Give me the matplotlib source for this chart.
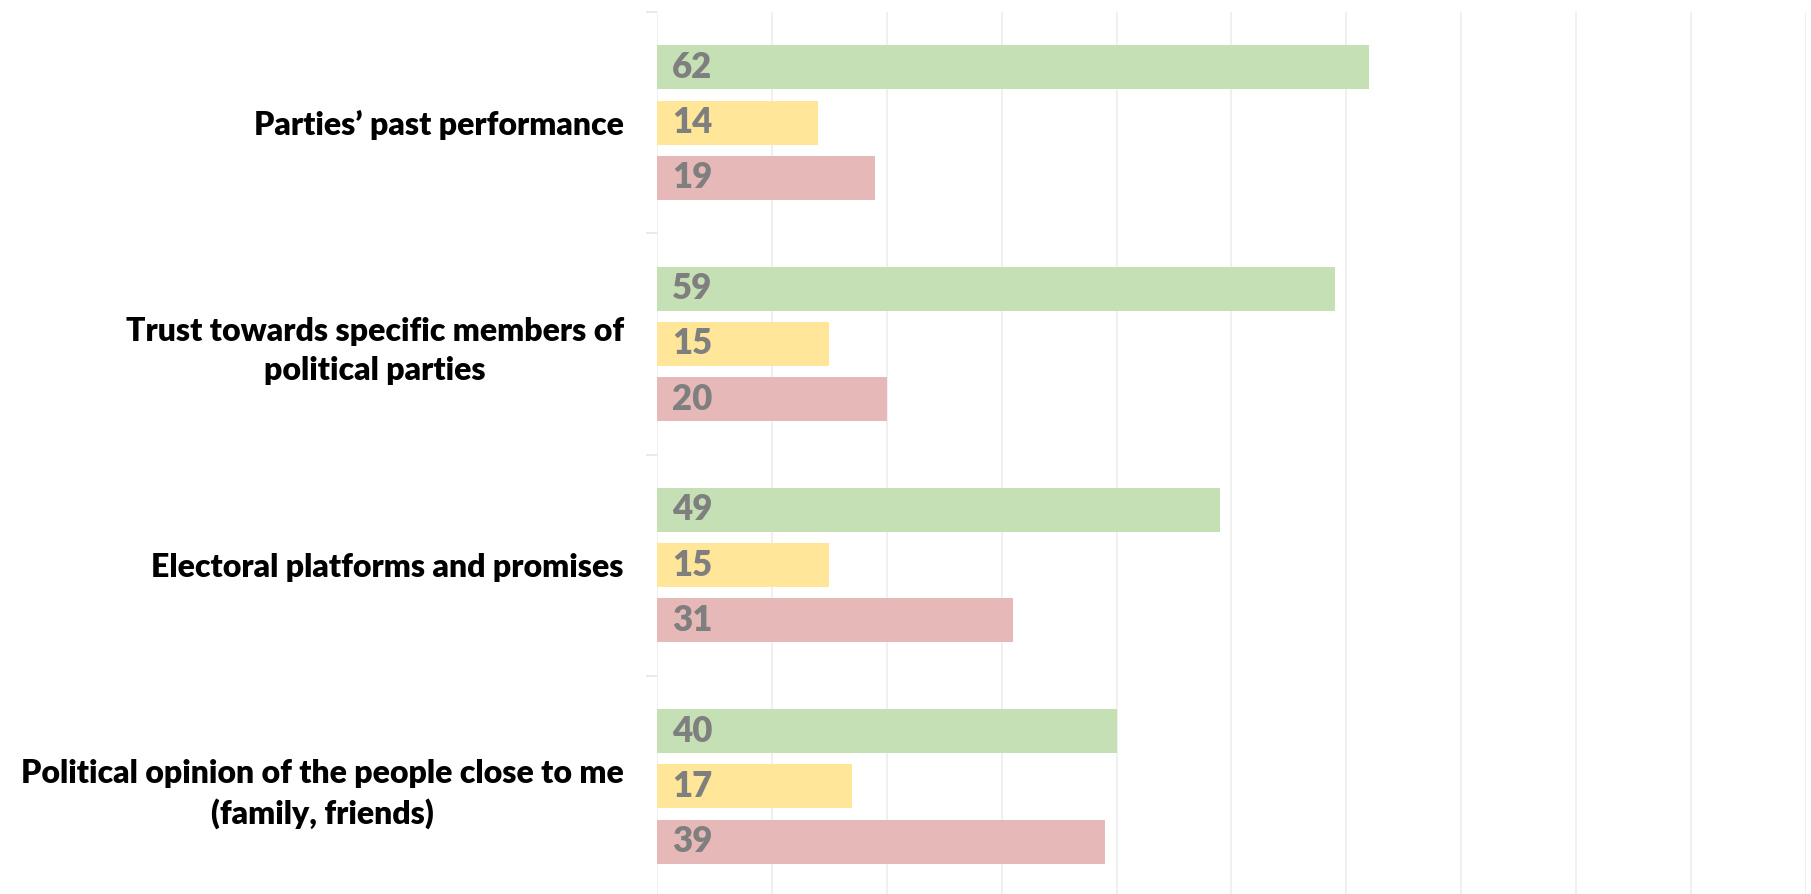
import numpy as np
import matplotlib.pyplot as plt

# Survey data (percent)
categories = [
    "Parties\u2019 past performance",
    "Trust towards specific members of\npolitical parties",
    "Electoral platforms and promises",
    "Political opinion of the people close to me\n(family, friends)",
]
positive = [62, 59, 49, 40]
neutral = [14, 15, 15, 17]
negative = [19, 20, 31, 39]

colors = ['#C5E0B4', '#FFE699', '#E6B9B8']

plt.rcParams['font.family'] = ['Lato', 'DejaVu Sans']

fig = plt.figure(figsize=(18.11, 8.94), dpi=100)
ax = fig.add_axes([0.3628, -0.0034, 0.6344, 0.99])

y = np.arange(len(categories))
h = 0.199
offsets = [-0.25, 0.0, 0.25]

for series, off, col in zip([positive, neutral, negative], offsets, colors):
    bars = ax.barh(y + off, series, height=h, color=col, zorder=2)
    for b, v in zip(bars, series):
        ax.annotate(str(v), (0, b.get_y() + b.get_height() / 2),
                    xytext=(11, 0), textcoords='offset points',
                    ha='left', va='center', fontsize=25, fontweight='heavy',
                    color='#7F7F7F', zorder=3)

ax.set_xlim(0, 100)
ax.set_ylim(len(categories) - 0.5, -0.5)
ax.set_xticks(np.arange(0, 101, 10))
ax.tick_params(axis='x', length=0, labelbottom=False)
ax.grid(axis='x', color='#EDEDED', linewidth=1.2, zorder=0)

ax.set_yticks(y)
ax.set_yticklabels(categories, fontsize=23, fontweight='heavy',
                   multialignment='center', linespacing=1.4)
ax.set_yticks(np.arange(-0.5, len(categories)), minor=True)
ax.tick_params(axis='y', which='major', length=0, pad=24)
ax.tick_params(axis='y', which='minor', length=8, color='#E6E6E6', width=1.2)

for s in ax.spines.values():
    s.set_visible(False)

fig.savefig('out.png', dpi=100)
